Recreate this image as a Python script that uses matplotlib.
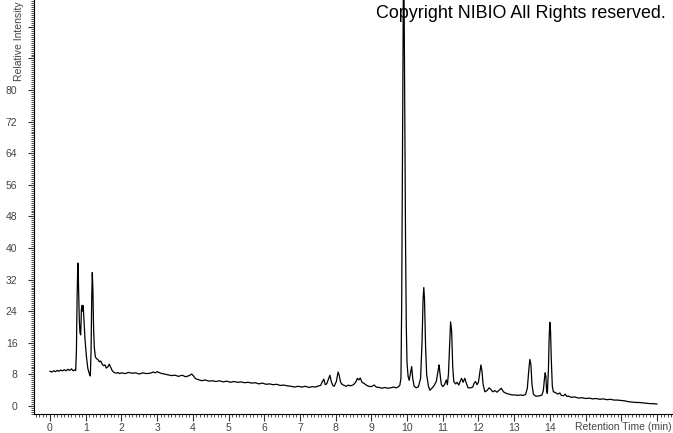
import matplotlib
matplotlib.use("Agg")
import matplotlib.pyplot as plt
from matplotlib.ticker import MultipleLocator

# retention time (min) and relative intensity
rt = [
    0.00, 0.05, 0.10, 0.15, 0.20, 0.25, 0.30, 0.35, 0.40, 0.45, 0.50, 0.55, 0.60, 0.65, 0.70, 0.72,
    0.74, 0.76, 0.78, 0.79, 0.80, 0.82, 0.84, 0.86, 0.88, 0.90, 0.92, 0.93, 0.95, 0.98, 1.02, 1.06,
    1.10, 1.13, 1.15, 1.17, 1.185, 1.20, 1.22, 1.24, 1.27, 1.30, 1.34, 1.38, 1.42, 1.46, 1.50, 1.54,
    1.58, 1.62, 1.66, 1.70, 1.74, 1.78, 1.82, 1.86, 1.90, 1.95,
    2.00, 2.10, 2.20, 2.30, 2.40, 2.50, 2.60, 2.70, 2.80, 2.90, 2.95, 3.00, 3.10, 3.20, 3.30, 3.40,
    3.50, 3.60, 3.70, 3.80, 3.90, 3.97, 4.02, 4.08, 4.15, 4.25, 4.35, 4.45, 4.55, 4.65, 4.75, 4.85,
    4.95, 5.05, 5.15, 5.25, 5.35, 5.45, 5.55, 5.65, 5.75, 5.85, 5.95, 6.05, 6.15, 6.25, 6.35, 6.45,
    6.55, 6.65, 6.75, 6.85, 6.95, 7.05, 7.15, 7.25, 7.35, 7.45, 7.52,
    7.58, 7.63, 7.67, 7.71, 7.75, 7.80, 7.84, 7.88, 7.92, 7.96, 8.02, 8.07, 8.10, 8.14, 8.18, 8.24,
    8.30, 8.36, 8.42, 8.50, 8.56, 8.61, 8.65, 8.69, 8.74, 8.80, 8.86, 8.92, 9.00, 9.08, 9.14, 9.22,
    9.30, 9.38, 9.46, 9.54, 9.62, 9.70, 9.76, 9.80, 9.83, 9.85, 9.87, 9.89, 9.905, 9.92, 9.94, 9.96,
    9.98, 10.00, 10.03, 10.06, 10.10, 10.13, 10.16, 10.20, 10.26, 10.32, 10.38, 10.42, 10.45, 10.47,
    10.49, 10.52, 10.55, 10.60, 10.64, 10.70, 10.76, 10.82, 10.88, 10.90, 10.92, 10.96, 11.00, 11.05,
    11.10, 11.13, 11.16, 11.19, 11.22, 11.25, 11.28, 11.31, 11.36, 11.40, 11.45, 11.50, 11.53, 11.57,
    11.62, 11.66, 11.71, 11.78, 11.84, 11.88, 11.92, 11.96, 12.00, 12.04, 12.07, 12.10, 12.13, 12.18,
    12.24, 12.30, 12.35, 12.40, 12.46, 12.52, 12.58, 12.64, 12.70, 12.78, 12.86, 12.94, 13.02, 13.10,
    13.18, 13.26, 13.32, 13.37, 13.41, 13.44, 13.47, 13.50, 13.54, 13.60, 13.66, 13.72, 13.78, 13.82,
    13.85, 13.87, 13.89, 13.91, 13.93, 13.96, 13.98, 14.00, 14.02, 14.04, 14.07, 14.10, 14.16, 14.22,
    14.28, 14.32, 14.38, 14.43, 14.48, 14.52, 14.60, 14.70, 14.80, 14.90, 15.00, 15.10, 15.20, 15.30,
    15.40, 15.50, 15.60, 15.70, 15.80, 15.90, 16.00, 16.10, 16.20, 16.30, 16.40, 16.50, 16.60, 16.70,
    16.80, 16.90, 17.00,
]
intensity = [
    8.8, 8.6, 8.9, 8.7, 9.0, 8.8, 9.1, 8.9, 9.2, 8.9, 9.3, 9.0, 9.4, 8.9, 9.2, 9.0,
    14.0, 28.0, 36.2, 35.0, 30.0, 22.0, 18.5, 18.0, 24.5, 25.5, 24.0, 25.4, 22.0, 17.0, 12.5, 9.5,
    8.2, 7.6, 14.0, 28.0, 33.8, 30.0, 20.0, 15.0, 12.5, 12.0, 11.8, 11.2, 11.4, 10.6, 10.2, 10.4,
    9.6, 9.9, 10.6, 9.8, 9.0, 8.6, 8.4, 8.3, 8.5, 8.2,
    8.4, 8.2, 8.5, 8.3, 8.4, 8.1, 8.4, 8.2, 8.3, 8.6, 8.4, 8.7, 8.3, 8.1, 7.9, 7.7,
    7.8, 7.5, 7.8, 7.4, 7.7, 8.1, 7.6, 6.9, 6.7, 6.4, 6.6, 6.3, 6.4, 6.2, 6.4, 6.1,
    6.3, 6.0, 6.2, 6.0, 6.1, 5.9, 6.0, 5.8, 5.9, 5.6, 5.8, 5.5, 5.6, 5.4, 5.5, 5.2,
    5.3, 5.1, 5.0, 4.8, 5.0, 4.8, 5.0, 4.7, 4.9, 4.8, 5.1,
    5.2, 6.2, 6.8, 5.4, 5.6, 6.8, 7.8, 6.2, 5.2, 5.0, 6.2, 8.6, 7.8, 6.0, 5.5, 5.2,
    5.0, 5.3, 5.1, 5.4, 6.0, 7.0, 6.6, 7.1, 6.0, 5.7, 5.3, 5.0, 4.9, 5.3, 4.8, 4.7,
    4.5, 4.7, 4.5, 4.6, 4.8, 4.6, 4.9, 5.3, 7.0, 25.0, 60.0, 95.0, 115.0, 100.0, 70.0, 40.0,
    20.0, 11.0, 7.5, 6.5, 8.5, 10.0, 7.0, 5.0, 4.6, 4.9, 7.0, 16.0, 27.0, 30.0,
    27.0, 15.0, 8.0, 5.0, 4.0, 4.5, 5.2, 6.2, 9.5, 10.4, 8.5, 5.5, 4.9, 5.4,
    6.6, 5.4, 8.0, 15.0, 21.3, 19.0, 10.0, 6.2, 5.6, 6.0, 5.3, 6.5, 7.0, 6.0,
    7.0, 5.8, 4.6, 4.6, 4.8, 5.8, 6.2, 5.4, 6.0, 8.5, 10.4, 8.8, 5.5, 3.6,
    3.9, 4.6, 4.2, 3.6, 3.9, 3.5, 4.0, 4.5, 3.6, 3.2, 3.0, 2.8, 2.8, 2.7,
    2.8, 2.7, 2.9, 4.5, 9.0, 11.8, 10.5, 5.5, 3.0, 2.5, 2.5, 2.6, 2.8, 4.0,
    7.0, 8.4, 7.5, 3.8, 3.2, 9.0, 17.0, 21.2, 19.0, 12.0, 5.0, 3.6, 3.4, 3.0,
    3.3, 2.7, 2.6, 3.0, 2.4, 2.5, 2.2, 2.3, 2.0, 2.1, 1.9, 2.0, 1.8, 1.9,
    1.7, 1.8, 1.6, 1.7, 1.5, 1.5, 1.4, 1.3, 1.1, 1.0, 0.9, 0.9, 0.8, 0.7,
    0.6, 0.6, 0.5,
]

x_major = list(range(0, 18))
x_labels = [str(v) if v <= 14 else "" for v in x_major]
y_major = list(range(0, 97, 8))
y_labels = [str(v) if v <= 80 else "" for v in y_major]

label_color = "#444444"
plt.rcParams["font.family"] = ["Liberation Sans", "DejaVu Sans"]

fig = plt.figure(figsize=(6.73, 4.33), dpi=100)
ax = fig.add_axes([34 / 673, 18.7 / 433, 1 - 34 / 673, 1 - 18.7 / 433])

ax.plot(rt, intensity, color="black", linewidth=0.9)

ax.set_xlim(-0.448, 17.45)
ax.set_ylim(-2.1, 102.8)

ax.spines["top"].set_visible(False)
ax.spines["right"].set_visible(False)
ax.spines["left"].set_linewidth(0.8)
ax.spines["bottom"].set_linewidth(0.8)

ax.set_xticks(x_major)
ax.set_xticklabels(x_labels)
ax.set_yticks(y_major)
ax.set_yticklabels(y_labels)
ax.xaxis.set_minor_locator(MultipleLocator(0.1))
ax.yaxis.set_minor_locator(MultipleLocator(0.5))

ax.tick_params(axis="both", which="major", labelsize=7.5, labelcolor=label_color,
               color="#333333", width=0.8)
ax.tick_params(axis="x", which="major", length=5, pad=1.5)
ax.tick_params(axis="y", which="major", length=4, pad=8)
ax.tick_params(axis="x", which="minor", length=2.5, width=0.6, color="#333333")
ax.tick_params(axis="y", which="minor", length=2, width=0.6, color="#333333")

fig.text(19 / 673, 1 - 1 / 433, "Relative Intensity", rotation=90,
         ha="center", va="top", fontsize=7.5, color=label_color)
fig.text(672 / 673, 1 - 427 / 433, "Retention Time (min)",
         ha="right", va="center", fontsize=7.5, color=label_color)
fig.text(666 / 673, 1 - 14 / 433, "Copyright NIBIO All Rights reserved.",
         ha="right", va="center", fontsize=12.9, color="black")

fig.savefig("out.png", dpi=100)
